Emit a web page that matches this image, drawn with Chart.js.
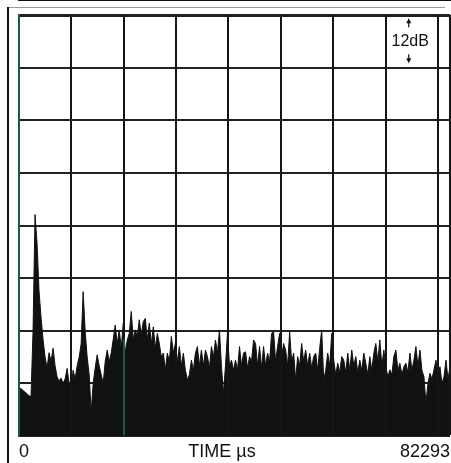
<!DOCTYPE html>
<html>
<head>
<meta charset="utf-8">
<title>Impulse response</title>
<script src="https://cdn.jsdelivr.net/npm/chart.js@4.4.1/dist/chart.umd.min.js"></script>
<style>
    html, body { margin: 0; padding: 0; background: #fff; }
    #wrap { width: 451px; height: 463px; position: relative; }
</style>
</head>
<body>
<div id="wrap"><canvas id="chart"></canvas></div>
<script>
// Axis ranges
const X_MAX = 82293;            // µs, right edge of the trace
const Y_MAX = 96;               // 8 divisions of 12 dB
const DB_PER_DIV = 12;
const gridTimes = [0, 10000, 20000, 30000, 40000, 50000, 60000, 70000, 80000];
const captionTime = 38760;      // where "TIME µs" sits on the axis
const tickTexts = { 0: '0', 38760: 'TIME µs', 82293: '82293' };

// Level in dB above the bottom line, one sample every ~383 µs
const levels = [
    11, 10.8, 10.4, 10, 9.6, 9.2, 9.0, 24, 50.5, 44,
    33, 27, 22, 18, 15.5, 19, 17, 20, 16, 13.5,
    12.5, 13.2, 12, 13, 15.4, 12, 10.9, 15, 13, 16,
    18, 21, 32.9, 24, 18, 14, 5.5, 12, 15.5, 18.5,
    16, 14, 12, 17, 19.6, 17, 18.9, 22, 25.3, 21,
    24.2, 20, 25.7, 19, 21.9, 23.4, 28.4, 22, 24.2, 22.7,
    26.5, 23, 26.1, 26.8, 22, 25.7, 21, 24.9, 20, 23.4,
    21.1, 18, 18.9, 15.1, 18.9, 17, 22.7, 19, 21.1, 17,
    20.4, 16, 18.9, 15, 12.8, 14, 17.3, 15, 18.9, 20.4,
    16, 19.6, 16, 19.6, 18.1, 15.5, 20.4, 18, 21.9, 19,
    24.2, 15.8, 9.7, 16, 23.4, 16, 17.3, 15, 17.3, 15,
    20.4, 16, 18.9, 19.2, 15.5, 18.1, 17, 21.9, 21.1, 16,
    20.4, 15.5, 20.4, 16, 18.9, 17, 23.4, 23.8, 17, 20.4,
    23.4, 18, 21.1, 19.6, 16, 23.8, 17, 18.9, 12.8, 18.1,
    16, 21.1, 17, 19.6, 16, 18.9, 15.5, 18.1, 18.9, 15,
    20, 24.2, 12.8, 15, 18.9, 16, 23.4, 17.3, 14, 16.6,
    14.5, 18.1, 17.3, 14.5, 18.9, 15, 19.6, 16, 18.1, 14.5,
    17.3, 15, 18.9, 16.6, 14, 18.1, 15, 18.9, 21.1, 17,
    21.9, 16, 19.6, 15.8, 13.5, 15.1, 14, 18.1, 19.6, 15,
    16.6, 14, 15.8, 16.6, 14.5, 18.9, 15, 17.3, 20.4, 16,
    19.6, 15, 13.5, 7.5, 12, 14.3, 13, 15.1, 17.3, 14,
    15.8, 12, 13.5, 17.3, 13, 15.8
];

const sampleStep = X_MAX / (levels.length - 1);
const GREEN = '#1f5a3a';
const GRID = '#151515';
const TRACE = '#111';

// Outer frame and the 12 dB scale marker
const framePlugin = {
    id: 'frame',
    beforeDraw(chart) {
        const ctx = chart.ctx;
        ctx.save();
        ctx.fillStyle = '#fff';
        ctx.fillRect(0, 0, chart.width, chart.height);
        ctx.strokeStyle = '#9a9a9a';
        ctx.lineWidth = 1;
        ctx.beginPath();
        ctx.moveTo(8, 7.5);
        ctx.lineTo(445, 7.5);
        ctx.stroke();
        ctx.strokeStyle = '#111';
        ctx.lineWidth = 2;
        ctx.beginPath();
        ctx.moveTo(8, 7);
        ctx.lineTo(8, chart.height);
        ctx.stroke();
        ctx.restore();
    },
    afterDraw(chart) {
        const { ctx, scales } = chart;
        const cx = scales.x.getPixelForValue(74700);
        const cy = scales.y.getPixelForValue(Y_MAX - DB_PER_DIV / 2);
        ctx.save();
        ctx.fillStyle = '#111';
        ctx.strokeStyle = '#111';
        ctx.font = '16px "Liberation Sans", Arial, sans-serif';
        ctx.textAlign = 'center';
        ctx.textBaseline = 'middle';
        ctx.fillText(DB_PER_DIV + 'dB', cx, cy);
        const ax = cx - 1.5;
        ctx.lineWidth = 1.2;
        // up arrow
        ctx.beginPath();
        ctx.moveTo(ax, cy - 14);
        ctx.lineTo(ax, cy - 20);
        ctx.stroke();
        ctx.beginPath();
        ctx.moveTo(ax, cy - 23);
        ctx.lineTo(ax - 2.5, cy - 18);
        ctx.lineTo(ax + 2.5, cy - 18);
        ctx.closePath();
        ctx.fill();
        // down arrow
        ctx.beginPath();
        ctx.moveTo(ax, cy + 13);
        ctx.lineTo(ax, cy + 18);
        ctx.stroke();
        ctx.beginPath();
        ctx.moveTo(ax, cy + 22);
        ctx.lineTo(ax - 2.5, cy + 17);
        ctx.lineTo(ax + 2.5, cy + 17);
        ctx.closePath();
        ctx.fill();
        ctx.restore();
    }
};

// the 20000 line only shows green where it crosses the dark trace
function tintedLine(chart) {
    const area = chart.chartArea;
    if (!area) return GRID;
    const g = chart.ctx.createLinearGradient(0, area.top, 0, area.bottom);
    g.addColorStop(0, GRID);
    g.addColorStop(0.765, GRID);
    g.addColorStop(0.775, GREEN);
    g.addColorStop(1, GREEN);
    return g;
}

function gridColor(ctx) {
    const v = ctx.tick.value;
    if (v === captionTime) return 'rgba(0,0,0,0)';
    if (v === 0) return GREEN;
    if (v === 20000) return tintedLine(ctx.chart);
    return GRID;
}

new Chart(document.getElementById('chart'), {
    type: 'line',
    data: {
        datasets: [{
            data: levels.map((v, i) => ({ x: i * sampleStep, y: v })),
            borderColor: TRACE,
            backgroundColor: TRACE,
            borderWidth: 1,
            pointRadius: 0,
            tension: 0,
            fill: 'origin'
        }]
    },
    options: {
        responsive: true,
        maintainAspectRatio: false,
        animation: false,
        layout: { autoPadding: false, padding: { left: 19, top: 15, right: 1, bottom: 0 } },
        plugins: {
            legend: { display: false },
            tooltip: { enabled: false }
        },
        scales: {
            x: {
                type: 'linear',
                min: 0,
                max: X_MAX,
                afterBuildTicks(scale) {
                    scale.ticks = [...gridTimes, captionTime, X_MAX]
                        .sort((a, b) => a - b)
                        .map(v => ({ value: v }));
                },
                afterFit(scale) {
                    scale.height = 27;
                },
                grid: {
                    z: 1,
                    drawTicks: false,
                    color: gridColor,
                    lineWidth: ctx => (ctx.tick.value === X_MAX ? 2.5 : 2)
                },
                border: { display: true, color: '#111', width: 2 },
                ticks: {
                    autoSkip: false,
                    maxRotation: 0,
                    align: 'inner',
                    padding: 0,
                    color: '#111',
                    font: { family: '"Liberation Sans", Arial, sans-serif', size: 18, lineHeight: 1.78 },
                    callback: v => tickTexts[v] || ''
                }
            },
            y: {
                min: 0,
                max: Y_MAX,
                ticks: { display: false, stepSize: DB_PER_DIV },
                grid: {
                    drawTicks: false,
                    color: '#222',
                    lineWidth: ctx => (ctx.tick.value === Y_MAX ? 3 : 2)
                },
                border: { display: true, color: GREEN, width: 2 }
            }
        }
    },
    plugins: [framePlugin]
});
</script>
</body>
</html>
